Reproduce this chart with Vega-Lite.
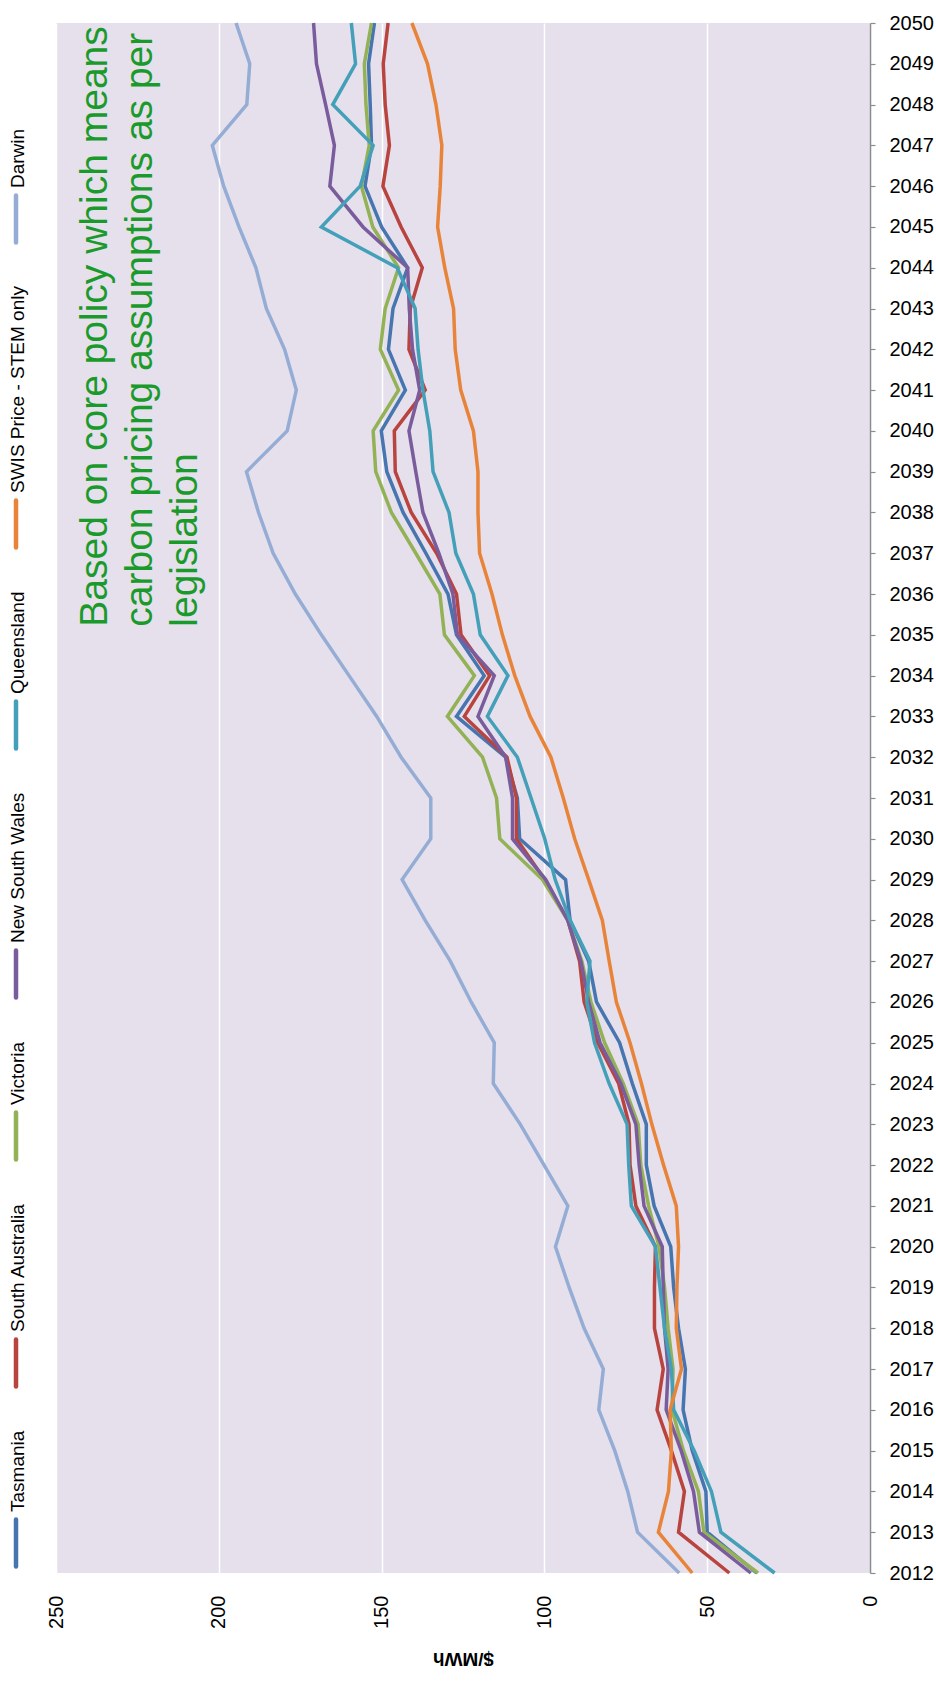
{
  "$schema": "https://vega.github.io/schema/vega-lite/v6.json",
  "width": 814,
  "height": 1550,
  "autosize": "none",
  "padding": {"left": 56, "top": 23, "right": 66, "bottom": 113},
  "background": "white",
  "config": {
    "view": {"fill": "#E5E0EC", "stroke": null},
    "font": "Liberation Sans"
  },
  "datasets": {
    "prices": [
      {"year": 2012, "Tasmania": 34.8, "South Australia": 43.2, "Victoria": 34.4, "New South Wales": 36.6, "Queensland": 29.3, "SWIS Price - STEM only": 54.6, "Darwin": 58.6},
      {"year": 2013, "Tasmania": 50, "South Australia": 58.8, "Victoria": 51, "New South Wales": 52.4, "Queensland": 45.8, "SWIS Price - STEM only": 65, "Darwin": 71.4},
      {"year": 2014, "Tasmania": 50.4, "South Australia": 57, "Victoria": 52.7, "New South Wales": 54.2, "Queensland": 48.7, "SWIS Price - STEM only": 61.9, "Darwin": 74.4},
      {"year": 2015, "Tasmania": 54.6, "South Australia": 61, "Victoria": 57.3, "New South Wales": 58, "Queensland": 54, "SWIS Price - STEM only": 61, "Darwin": 78.4},
      {"year": 2016, "Tasmania": 57.4, "South Australia": 65.4, "Victoria": 60.8, "New South Wales": 62.6, "Queensland": 60.3, "SWIS Price - STEM only": 61.4, "Darwin": 83.3},
      {"year": 2017, "Tasmania": 56.7, "South Australia": 63.5, "Victoria": 60.5, "New South Wales": 62, "Queensland": 61, "SWIS Price - STEM only": 57.9, "Darwin": 81.9},
      {"year": 2018, "Tasmania": 58.8, "South Australia": 66.2, "Victoria": 62, "New South Wales": 63.1, "Queensland": 63.1, "SWIS Price - STEM only": 59.5, "Darwin": 87.8},
      {"year": 2019, "Tasmania": 60.3, "South Australia": 66.2, "Victoria": 63.1, "New South Wales": 63.5, "Queensland": 64.5, "SWIS Price - STEM only": 59.3, "Darwin": 92.4},
      {"year": 2020, "Tasmania": 61.2, "South Australia": 65.9, "Victoria": 64.8, "New South Wales": 63.8, "Queensland": 65.9, "SWIS Price - STEM only": 58.8, "Darwin": 96.6},
      {"year": 2021, "Tasmania": 66.3, "South Australia": 71.9, "Victoria": 68, "New South Wales": 69.4, "Queensland": 73.3, "SWIS Price - STEM only": 59.5, "Darwin": 92.8},
      {"year": 2022, "Tasmania": 68.7, "South Australia": 73.7, "Victoria": 70.4, "New South Wales": 70.9, "Queensland": 74.1, "SWIS Price - STEM only": 63.4, "Darwin": 100.1},
      {"year": 2023, "Tasmania": 68.7, "South Australia": 74, "Victoria": 71.2, "New South Wales": 71.9, "Queensland": 74.6, "SWIS Price - STEM only": 67, "Darwin": 107.4},
      {"year": 2024, "Tasmania": 73, "South Australia": 77.2, "Victoria": 75.8, "New South Wales": 76.5, "Queensland": 80.1, "SWIS Price - STEM only": 70.2, "Darwin": 115.7},
      {"year": 2025, "Tasmania": 76.9, "South Australia": 83.6, "Victoria": 81.5, "New South Wales": 82.9, "Queensland": 84.6, "SWIS Price - STEM only": 73.7, "Darwin": 115.4},
      {"year": 2026, "Tasmania": 84, "South Australia": 87.8, "Victoria": 85.7, "New South Wales": 86.4, "Queensland": 87, "SWIS Price - STEM only": 77.9, "Darwin": 122.5},
      {"year": 2027, "Tasmania": 86.4, "South Australia": 89.2, "Victoria": 88.5, "New South Wales": 88.8, "Queensland": 86, "SWIS Price - STEM only": 80.1, "Darwin": 128.9},
      {"year": 2028, "Tasmania": 92.1, "South Australia": 92.8, "Victoria": 92.8, "New South Wales": 92.8, "Queensland": 92.1, "SWIS Price - STEM only": 82.2, "Darwin": 136.6},
      {"year": 2029, "Tasmania": 93.5, "South Australia": 99.9, "Victoria": 100.6, "New South Wales": 99.6, "Queensland": 96.7, "SWIS Price - STEM only": 86.4, "Darwin": 143.7},
      {"year": 2030, "Tasmania": 107.6, "South Australia": 108.6, "Victoria": 113.7, "New South Wales": 109.8, "Queensland": 99.9, "SWIS Price - STEM only": 90.7, "Darwin": 134.9},
      {"year": 2031, "Tasmania": 108.3, "South Australia": 108.6, "Victoria": 114.7, "New South Wales": 109.8, "Queensland": 104.1, "SWIS Price - STEM only": 94.2, "Darwin": 134.9},
      {"year": 2032, "Tasmania": 111.9, "South Australia": 111.5, "Victoria": 119, "New South Wales": 111.9, "Queensland": 108.3, "SWIS Price - STEM only": 98, "Darwin": 144},
      {"year": 2033, "Tasmania": 127, "South Australia": 124.6, "Victoria": 129.8, "New South Wales": 120.4, "Queensland": 117.5, "SWIS Price - STEM only": 104.4, "Darwin": 151.5},
      {"year": 2034, "Tasmania": 118.5, "South Australia": 116.8, "Victoria": 121.5, "New South Wales": 115.4, "Queensland": 111.2, "SWIS Price - STEM only": 109.1, "Darwin": 160},
      {"year": 2035, "Tasmania": 127, "South Australia": 125.6, "Victoria": 130.7, "New South Wales": 126.7, "Queensland": 119.7, "SWIS Price - STEM only": 112.9, "Darwin": 168.5},
      {"year": 2036, "Tasmania": 129.6, "South Australia": 127, "Victoria": 132.1, "New South Wales": 128.1, "Queensland": 121.8, "SWIS Price - STEM only": 116.1, "Darwin": 176.5},
      {"year": 2037, "Tasmania": 136.4, "South Australia": 133.1, "Victoria": 139.5, "New South Wales": 132.4, "Queensland": 127.2, "SWIS Price - STEM only": 119.9, "Darwin": 183.3},
      {"year": 2038, "Tasmania": 143.4, "South Australia": 140.9, "Victoria": 147, "New South Wales": 137.3, "Queensland": 129.3, "SWIS Price - STEM only": 120.4, "Darwin": 187.8},
      {"year": 2039, "Tasmania": 148.4, "South Australia": 145.8, "Victoria": 151.8, "New South Wales": 139.5, "Queensland": 134.2, "SWIS Price - STEM only": 120.4, "Darwin": 191.5},
      {"year": 2040, "Tasmania": 150.1, "South Australia": 146.1, "Victoria": 152.6, "New South Wales": 141.6, "Queensland": 135.2, "SWIS Price - STEM only": 121.8, "Darwin": 179},
      {"year": 2041, "Tasmania": 142.7, "South Australia": 136.6, "Victoria": 144.8, "New South Wales": 138.3, "Queensland": 137.3, "SWIS Price - STEM only": 125.7, "Darwin": 176.2},
      {"year": 2042, "Tasmania": 147.9, "South Australia": 141.6, "Victoria": 150.4, "New South Wales": 140.5, "Queensland": 138.8, "SWIS Price - STEM only": 127.4, "Darwin": 179.8},
      {"year": 2043, "Tasmania": 146.5, "South Australia": 141.2, "Victoria": 148.9, "New South Wales": 141.5, "Queensland": 139.7, "SWIS Price - STEM only": 127.9, "Darwin": 185.4},
      {"year": 2044, "Tasmania": 142, "South Australia": 137.5, "Victoria": 144.8, "New South Wales": 142, "Queensland": 145.2, "SWIS Price - STEM only": 130.6, "Darwin": 188.6},
      {"year": 2045, "Tasmania": 150, "South Australia": 144, "Victoria": 152.7, "New South Wales": 155.7, "Queensland": 168.5, "SWIS Price - STEM only": 132.8, "Darwin": 193.8},
      {"year": 2046, "Tasmania": 155.1, "South Australia": 149.6, "Victoria": 156.2, "New South Wales": 165.9, "Queensland": 156.6, "SWIS Price - STEM only": 132, "Darwin": 198.5},
      {"year": 2047, "Tasmania": 153.1, "South Australia": 147.6, "Victoria": 153.8, "New South Wales": 164.5, "Queensland": 152.6, "SWIS Price - STEM only": 131.5, "Darwin": 202},
      {"year": 2048, "Tasmania": 153.5, "South Australia": 148.9, "Victoria": 154.8, "New South Wales": 167.2, "Queensland": 165, "SWIS Price - STEM only": 133.3, "Darwin": 191.4},
      {"year": 2049, "Tasmania": 154, "South Australia": 149.5, "Victoria": 155.3, "New South Wales": 170, "Queensland": 158, "SWIS Price - STEM only": 135.9, "Darwin": 190.5},
      {"year": 2050, "Tasmania": 152.2, "South Australia": 148, "Victoria": 153.1, "New South Wales": 170.9, "Queensland": 159.3, "SWIS Price - STEM only": 140.7, "Darwin": 194.7}
    ],
    "note": [
      {"text": ["Based on core policy which means", "carbon pricing assumptions as per", "legislation"]}
    ]
  },
  "layer": [
    {
      "data": {"name": "prices"},
      "transform": [
        {"fold": ["Tasmania", "South Australia", "Victoria", "New South Wales", "Queensland", "SWIS Price - STEM only", "Darwin"], "as": ["series", "price"]}
      ],
      "mark": {"type": "line", "strokeWidth": 3.5, "strokeJoin": "miter"},
      "encoding": {
        "x": {
          "field": "price", "type": "quantitative",
          "scale": {"domain": [0, 250], "reverse": true, "nice": false, "zero": true},
          "axis": {
            "orient": "bottom",
            "values": [0, 50, 100, 150, 200, 250],
            "grid": true, "gridColor": "#FFFFFF", "gridWidth": 1.5, "gridOpacity": 1,
            "domain": false, "ticks": false, "tickSize": 0,
            "labelAngle": -90, "labelAlign": "right", "labelBaseline": "middle",
            "labelPadding": 22, "labelFontSize": 20, "labelColor": "#000000",
            "labelFlush": false, "labelOverlap": false,
            "title": "$/MWh", "titleAngle": 180, "titleBaseline": "bottom",
            "titleFontSize": 19, "titleFontWeight": "bold", "titleColor": "#000000",
            "titlePadding": 20
          }
        },
        "y": {
          "field": "year", "type": "quantitative",
          "scale": {"domain": [2012, 2050], "nice": false, "zero": false},
          "axis": {
            "orient": "right",
            "values": [2012, 2013, 2014, 2015, 2016, 2017, 2018, 2019, 2020, 2021, 2022, 2023, 2024, 2025, 2026, 2027, 2028, 2029, 2030, 2031, 2032, 2033, 2034, 2035, 2036, 2037, 2038, 2039, 2040, 2041, 2042, 2043, 2044, 2045, 2046, 2047, 2048, 2049, 2050],
            "format": "d",
            "grid": false,
            "domain": true, "domainColor": "#8C8C8C", "domainWidth": 1.5,
            "ticks": true, "tickColor": "#8C8C8C", "tickSize": 5, "tickWidth": 1.2,
            "labelPadding": 14, "labelFontSize": 20, "labelColor": "#000000",
            "labelFlush": false, "labelOverlap": false, "labelBaseline": "middle",
            "title": null, "zindex": 1
          }
        },
        "order": {"field": "year", "type": "quantitative"},
        "color": {
          "field": "series", "type": "nominal",
          "scale": {
            "domain": ["Darwin", "SWIS Price - STEM only", "Queensland", "New South Wales", "Victoria", "South Australia", "Tasmania"],
            "range": ["#95ADD5", "#E8843A", "#449FB8", "#7A5C9C", "#93B155", "#B9443F", "#4675AF"]
          },
          "legend": {
            "orient": "none", "legendX": -66, "legendY": 170,
            "direction": "vertical", "title": null, "padding": 0,
            "symbolType": "M0,-1L0,1", "symbolSize": 2209, "symbolStrokeWidth": 4.5,
            "labelFont": "Liberation Sans", "labelFontSize": 19, "labelColor": "#000000",
            "labelLimit": 400, "labelOffset": -24, "labelAlign": "left", "labelBaseline": "middle",
            "rowPadding": 34,
            "encode": {
              "labels": {"update": {"angle": {"value": -90}, "dx": {"value": 31}}},
              "symbols": {"update": {"strokeCap": {"value": "round"}}}
            }
          }
        }
      }
    },
    {
      "data": {"name": "note"},
      "mark": {"type": "text", "angle": -90, "align": "left", "baseline": "alphabetic", "fontSize": 39, "lineHeight": 45, "color": "#1B9A2C", "font": "Liberation Sans"},
      "encoding": {
        "x": {"datum": 234.3, "type": "quantitative"},
        "y": {"datum": 2035.2, "type": "quantitative"},
        "text": {"field": "text"}
      }
    }
  ]
}
